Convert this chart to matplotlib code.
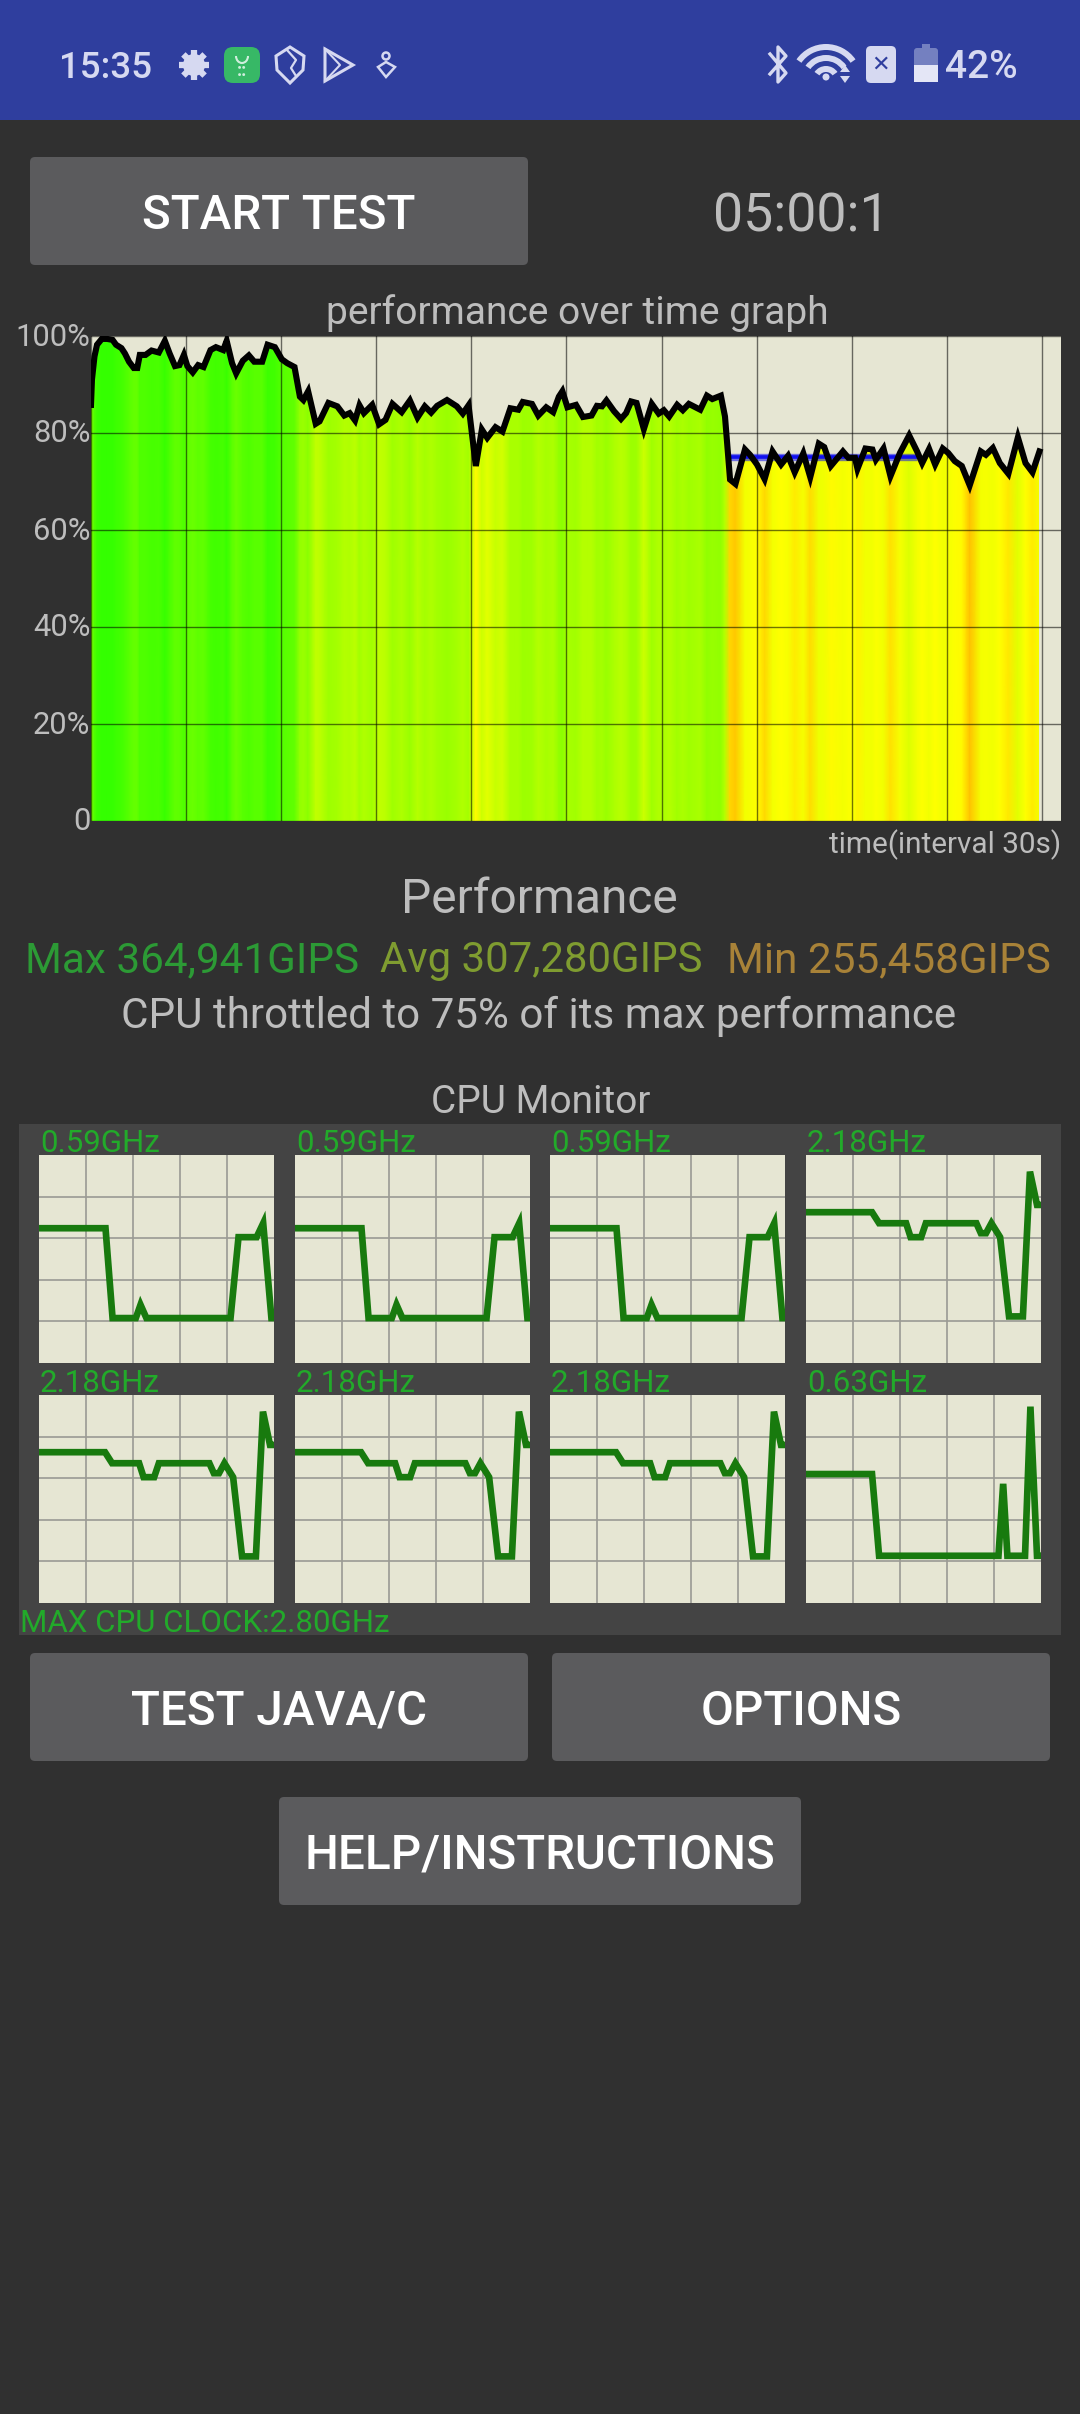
import numpy as np
import matplotlib
matplotlib.use('Agg')
import matplotlib.pyplot as plt
from matplotlib.colors import LinearSegmentedColormap
from matplotlib.patches import FancyBboxPatch, Polygon, Rectangle, Circle, Wedge, Arc

W, H = 1080, 2414

# performance over time, seconds vs percent of max
perf_t = [0, 0.3, 1.1, 1.9, 3.4, 5.1, 6.8, 7.9, 9.6, 10.7, 12.0, 13.5, 14.6, 15.4, 17.2, 19.1, 21.4, 23.3, 24.8, 26.5,
          27.9, 29.3, 30.4, 32.1, 33.8, 35.5, 37.7, 39.4, 41.7, 42.8, 44.5, 45.8, 47.9, 49.8, 51.5, 54.0, 55.7, 58.0, 60.2, 61.9,
          64.2, 65.9, 67.0, 68.5, 70.9, 72.1, 74.9, 77.7, 79.9, 81.6, 83.3, 84.7, 86.1, 88.7, 90.9, 92.9, 95.1, 98.0, 100.6, 103.0,
          105.3, 107.3, 109.2, 112.3, 115.4, 117.3, 119.1, 121.4, 123.3, 125.0, 127.6, 129.8, 132.3, 134.8, 136.2, 139.1, 141.1, 143.6, 145.8, 147.6,
          148.7, 150.3, 153.0, 155.2, 157.9, 159.6, 161.2, 162.6, 165.0, 167.2, 168.8, 170.4, 172.1, 174.4, 176.9, 179.1, 180.7, 182.4, 184.9, 186.7,
          188.6, 192.2, 194.3, 196.0, 198.7, 200.0, 201.6, 203.3, 206.3, 207.9, 210.1, 212.5, 215.0, 217.7, 219.9, 222.0, 224.7, 226.9, 229.6, 231.3,
          233.4, 237.2, 238.9, 241.0, 241.8, 244.3, 246.5, 247.6, 250.0, 252.2, 255.2, 258.1, 260.6, 262.2, 264.4, 266.3, 268.7, 270.4, 272.5, 274.7,
          277.2, 280.7, 282.3, 284.5, 286.7, 289.4, 292.4, 294.8, 297.0, 299.2]
perf_v = [85.8, 91.0, 95.8, 98.2, 99.4, 99.4, 99.2, 98.2, 97.5, 96.4, 94.7, 93.4, 93.4, 96.1, 96.1, 97.0, 96.6, 99.0, 96.4, 93.8,
          94.0, 96.1, 93.8, 92.5, 94.0, 93.6, 97.1, 97.7, 97.1, 99.0, 94.4, 92.3, 94.9, 96.0, 94.7, 94.7, 98.2, 97.7, 95.2, 94.4,
          93.6, 87.5, 86.8, 88.6, 81.9, 82.4, 86.2, 85.5, 83.6, 84.1, 82.6, 85.7, 84.1, 85.8, 81.8, 82.7, 86.0, 84.3, 86.7, 83.2,
          85.5, 84.2, 85.6, 86.8, 85.5, 84.0, 85.7, 73.2, 80.7, 79.0, 81.2, 80.3, 85.1, 84.8, 86.4, 86.0, 83.6, 85.3, 84.3, 87.5,
          88.6, 85.3, 85.8, 83.3, 83.6, 85.6, 85.5, 86.7, 84.5, 82.9, 84.1, 86.5, 86.2, 80.8, 86.0, 84.0, 84.7, 83.4, 85.8, 84.7,
          86.0, 84.8, 87.7, 87.0, 87.7, 83.4, 70.4, 69.5, 76.6, 75.5, 73.5, 70.5, 76.2, 73.5, 75.3, 71.9, 75.8, 70.9, 77.8, 77.1,
          73.2, 76.2, 74.9, 74.9, 72.6, 76.8, 76.6, 74.5, 76.8, 71.1, 75.9, 79.5, 76.2, 73.8, 76.7, 73.5, 76.8, 75.9, 74.2, 73.2,
          69.2, 76.2, 75.5, 76.9, 73.8, 71.6, 79.1, 73.8, 71.9, 76.2]
throttle_t = [200.3, 260.6]
throttle_v = [75, 75]

perf_ticks = [0, 20, 40, 60, 80, 100]
perf_labels = ['0', '20%', '40%', '60%', '80%', '100%']

# color of the fill by percent, positions in the 69-100 range
heat_stops = [(0.0, '#ffc000'), (0.08, '#ffe800'), (0.145, '#ffff00'), (0.3, '#ecff00'), (0.4, '#c4ff00'),
              (0.52, '#a8ff00'), (0.75, '#6cff00'), (1.0, '#30ff00')]
heat_lo, heat_hi = 69, 100

# cpu monitor, percent of width vs percent of height
low_x = [0, 28.3, 31.3, 41.2, 43.2, 45.7, 81.5, 84.9, 92.6, 95.4, 98.9, 100]
low_y = [64.8, 64.8, 21.6, 21.6, 28, 21.6, 21.6, 60.5, 60.5, 67.2, 21.6, 21.6]
big_x = [0, 28.1, 31.1, 42.6, 44.5, 49, 51, 72.5, 74.4, 76.6, 78.9, 82.6, 86.4, 92.3, 95.3, 98.3, 100]
big_y = [72.5, 72.5, 67.2, 67.2, 60.5, 60.5, 67.2, 67.2, 62.4, 62.4, 67.2, 60.5, 22.4, 22.4, 92, 76, 76]
last_x = [0, 28.1, 31.1, 81.9, 83.9, 85.7, 93.2, 95.5, 98.3, 100]
last_y = [62, 62, 22.7, 22.7, 57.3, 22.7, 22.7, 94.4, 22.7, 22.7]

core_labels = ['0.59GHz', '0.59GHz', '0.59GHz', '2.18GHz', '2.18GHz', '2.18GHz', '2.18GHz', '0.63GHz']
core_x = [low_x, low_x, low_x, big_x, big_x, big_x, big_x, last_x]
core_y = [low_y, low_y, low_y, big_y, big_y, big_y, big_y, last_y]

plt.rcParams['font.family'] = ['Roboto', 'DejaVu Sans']

BG = '#303030'
BEIGE = '#e6e6d3'
GREY = '#bdbdbd'
fig = plt.figure(figsize=(W / 100, H / 100), dpi=100, facecolor=BG)


def px_axes(left, top, right, bottom):
    return fig.add_axes([left / W, 1 - bottom / H, (right - left) / W, (bottom - top) / H])


ui = fig.add_axes([0, 0, 1, 1])
ui.set_xlim(0, W)
ui.set_ylim(H, 0)
ui.axis('off')


def button(left, top, right, bottom, label, base):
    ui.add_patch(FancyBboxPatch((left + 4, top + 4), right - left - 8, bottom - top - 8,
                                boxstyle='round,pad=4,rounding_size=5', fc='#5b5b5d', ec='none'))
    ui.text((left + right) / 2, base, label, color='white', fontsize=34.3, weight='medium',
            ha='center', va='baseline')


# status bar
STATUS = '#d6d9f1'
BAR = '#2f3e9e'
ui.add_patch(Rectangle((0, 0), W, 120, fc=BAR, ec='none'))
ui.text(59, 78, '15:35', color=STATUS, fontsize=26.5, weight='medium', ha='left', va='baseline')
ui.text(945, 78, '42%', color=STATUS, fontsize=28, weight='medium', ha='left', va='baseline')
# gear
for ang in np.arange(0, 180, 45):
    dx, dy = 15 * np.cos(np.radians(ang)), 15 * np.sin(np.radians(ang))
    ui.plot([194 - dx, 194 + dx], [65 - dy, 65 + dy], color=STATUS, lw=4.5, solid_capstyle='butt')
ui.add_patch(Circle((194, 65), 11, fc=STATUS, ec='none'))
ui.add_patch(Circle((194, 65), 5, fc=BAR, ec='none'))
# green app icon
ui.add_patch(FancyBboxPatch((231, 54), 22, 22, boxstyle='round,pad=7,rounding_size=9', fc='#37b866', ec='none'))
ui.add_patch(Arc((242, 56), 12, 14, theta1=0, theta2=180, color='#cfeedd', lw=1.5))
ui.text(242, 71, '::', color='#cfeedd', fontsize=13, ha='center', va='center', weight='bold')
# shield and play
ui.add_patch(Polygon([[276, 56], [290, 47], [304, 56], [303, 70], [290, 83], [277, 70]], closed=True, fc='none',
                     ec=STATUS, lw=2.2))
ui.plot([287, 296, 291, 296], [50, 60, 68, 76], color=STATUS, lw=1.6)
ui.add_patch(Polygon([[325, 49], [353, 65], [325, 81]], closed=True, fc='none', ec=STATUS, lw=2.2))
ui.plot([325, 340, 325], [49, 65, 81], color=STATUS, lw=1.5)
ui.add_patch(Circle((386, 56), 3.5, fc='none', ec=STATUS, lw=1.8))
ui.add_patch(Polygon([[378, 67], [386, 62], [395, 67], [386, 77]], closed=True, fc='none', ec=STATUS, lw=1.8))
# bluetooth, wifi, sim, battery
ui.plot([770, 786, 778, 778, 786, 770], [54, 73, 82, 47, 56, 74], color=STATUS, lw=2.4)
for r, w in [(36, 6), (25, 6), (14, 6)]:
    ui.add_patch(Wedge((826, 80), r, 215, 325, width=w, fc=STATUS, ec='none'))
ui.add_patch(Circle((826, 77), 3.5, fc=STATUS, ec='none'))
ui.add_patch(Polygon([[840, 72], [850, 72], [845, 65]], closed=True, fc=STATUS, ec='none'))
ui.add_patch(Polygon([[840, 76], [850, 76], [845, 83]], closed=True, fc=STATUS, ec='none'))
ui.add_patch(FancyBboxPatch((869, 49), 24, 31, boxstyle='round,pad=3,rounding_size=5', fc=STATUS, ec='none'))
ui.text(881, 65, '\u2715', color=BAR, fontsize=16, family='DejaVu Sans', ha='center', va='center', weight='bold')
ui.add_patch(FancyBboxPatch((916, 50), 20, 30, boxstyle='round,pad=2,rounding_size=3', fc='#7480c0', ec='none'))
ui.add_patch(Rectangle((922, 44), 8, 4, fc='#7480c0', ec='none'))
ui.add_patch(Rectangle((914, 65), 24, 17, fc='#e4e6f6', ec='none'))

# top controls
button(30, 157, 528, 265, 'START TEST', 229)
ui.text(801, 232, '05:00:1', color=GREY, fontsize=38.6, ha='center', va='baseline')

# main graph
ui.text(577, 323.5, 'performance over time graph', color=GREY, fontsize=28.1, ha='center', va='baseline')
for tick, label in zip(perf_ticks, perf_labels):
    ui.text(90.5, 822 - tick * 4.85, label, color=GREY, fontsize=22.2, ha='right', va='center')
ui.text(1061, 853, 'time(interval 30s)', color=GREY, fontsize=21.4, ha='right', va='baseline')

ax = px_axes(91, 336, 1061, 821)
ax.set_facecolor(BEIGE)
ax.set_xlim(0, 306)
ax.set_ylim(0, 100)
heat = LinearSegmentedColormap.from_list('heat', heat_stops)
mesh = ax.pcolormesh(perf_t, [0, 100], np.array([perf_v, perf_v]), cmap=heat, vmin=heat_lo, vmax=heat_hi,
                     shading='gouraud', zorder=1)
area = ax.fill_between(perf_t, 0, perf_v, color='none', zorder=1)
mesh.set_clip_path(area.get_paths()[0], transform=ax.transData)
ax.set_xticks(np.arange(0, 301, 30))
ax.set_yticks(perf_ticks)
ax.grid(True, color='black', alpha=0.55, lw=1.0, zorder=2)
ax.set_axisbelow(False)
ax.tick_params(length=0, labelbottom=False, labelleft=False)
for s in ax.spines.values():
    s.set_visible(False)
ax.plot(throttle_t, throttle_v, color='#1010f0', alpha=0.55, lw=5.3, solid_capstyle='butt', zorder=3)
ax.plot(throttle_t, throttle_v, color='#1010f0', lw=2.6, solid_capstyle='butt', zorder=3)
ax.plot(perf_t, perf_v, color='black', lw=4.4, solid_joinstyle='miter', zorder=4)

# summary
ui.text(539, 913, 'Performance', color=GREY, fontsize=34.5, ha='center', va='baseline')
ui.text(25, 972, 'Max 364,941GIPS', color='#2c9a35', fontsize=30.4, ha='left', va='baseline')
ui.text(380, 972, 'Avg 307,280GIPS', color='#7f9c30', fontsize=30.2, ha='left', va='baseline')
ui.text(727, 972, 'Min 255,458GIPS', color='#a88238', fontsize=30.4, ha='left', va='baseline')
ui.text(539, 1028, 'CPU throttled to 75% of its max performance', color=GREY, fontsize=30.3, ha='center', va='baseline')

# cpu monitor
ui.text(541, 1113, 'CPU Monitor', color=GREY, fontsize=28, ha='center', va='baseline')
ui.add_patch(Rectangle((19, 1124), 1042, 511, fc='#444444', ec='none'))
lefts = [39, 295, 550, 806]
rows = [(1155, 1363, 1152), (1395, 1603, 1392)]
for i in range(8):
    top, bottom, base = rows[i // 4]
    left = lefts[i % 4]
    c = px_axes(left, top, left + 235, bottom)
    c.set_facecolor(BEIGE)
    c.set_xlim(0, 100)
    c.set_ylim(0, 100)
    c.set_xticks(np.arange(20, 100, 20))
    c.set_yticks(np.arange(20, 100, 20))
    c.grid(True, color='#9a9a94', lw=1.2)
    c.set_axisbelow(True)
    c.tick_params(length=0, labelbottom=False, labelleft=False)
    for s in c.spines.values():
        s.set_visible(False)
    c.plot(core_x[i], core_y[i], color='#187a0e', lw=4.8, solid_joinstyle='miter')
    ui.text(left + 1, base, core_labels[i], color='#22aa2a', fontsize=22.5, ha='left', va='baseline')
ui.text(20, 1632, 'MAX CPU CLOCK:2.80GHz', color='#22aa2a', fontsize=22.5, ha='left', va='baseline')

# bottom buttons
button(30, 1653, 528, 1761, 'TEST JAVA/C', 1725)
button(552, 1653, 1050, 1761, 'OPTIONS', 1725)
button(279, 1797, 801, 1905, 'HELP/INSTRUCTIONS', 1869)

fig.savefig('out.png', dpi=100, facecolor=BG)
